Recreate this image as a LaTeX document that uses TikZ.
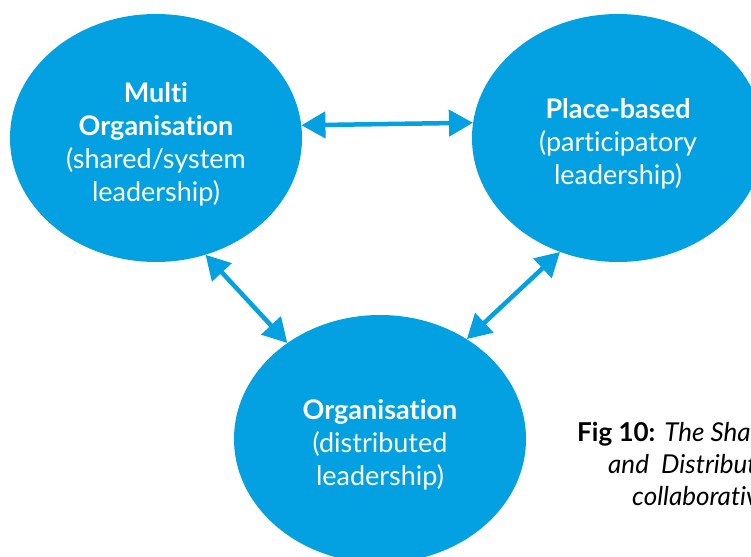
\documentclass[tikz,border=0pt]{standalone}
\usepackage{fontspec}
\setmainfont{Lato}[RawFeature=-liga]
\usetikzlibrary{shapes.geometric,arrows.meta}
\definecolor{leadblue}{RGB}{3,160,226}
\tikzset{
  blob/.style={ellipse, fill=leadblue, minimum width=292pt, minimum height=248pt,
    inner sep=0pt},
  blobtext/.style={text=white, align=center, inner sep=0pt, yshift=-6pt,
    font=\fontsize{27}{33}\selectfont},
  link/.style={draw=leadblue, line width=4.5pt,
    {Triangle[length=24pt,width=26pt]}-{Triangle[length=24pt,width=26pt]}},
  caption/.style={anchor=base west, inner sep=0pt, font=\fontsize{26}{32}\selectfont}
}
\begin{document}
\begin{tikzpicture}[x=1pt,y=-1pt]
  \useasboundingbox (0,0) rectangle (751,556);
  % the three leadership levels
  \node[blob] (multi) at (156,138) {};
  \node[blob] (place) at (618,138) {};
  \node[blob] (org) at (380,439) {};
  \node[blobtext] (multitext) at (multi.center) {\textbf{Multi}\\ \textbf{Organisation}\\ (shared/system\\ leadership)};
  \node[blobtext] (placetext) at (place.center) {\textbf{Place-based}\\ (participatory\\ leadership)};
  \node[blobtext] (orgtext) at (org.center) {\textbf{Organisation}\\ (distributed\\ leadership)};
  % two-way links between the levels
  \draw[link] (multi.5.5) -- (place.174.5);
  \draw[link] (multi.-67) -- (org.134.4);
  \draw[link] (place.-117) -- (org.49);
  % caption running off the right edge
  \node[caption] (cap1) at (577,441) {\textbf{Fig 10:} \textit{The Shared,}};
  \node[caption] (cap2) at (608,473) {\textit{and\ \ Distributed}};
  \node[caption] (cap3) at (632,505) {\textit{collaborative}};
\end{tikzpicture}
\end{document}
